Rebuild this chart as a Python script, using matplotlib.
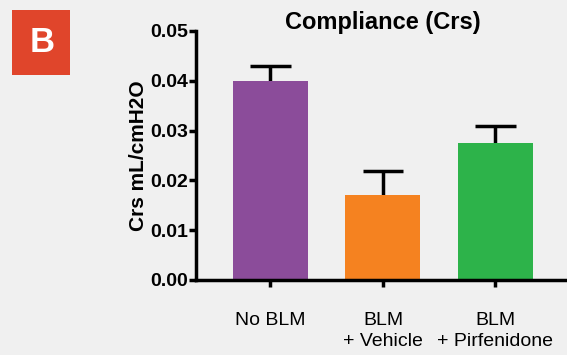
import numpy as np
import matplotlib.pyplot as plt
from matplotlib.patches import Rectangle

groups = ['No BLM', 'BLM\n+ Vehicle', 'BLM\n+ Pirfenidone']
means = [0.0400, 0.0171, 0.0276]
errs = [0.0030, 0.0047, 0.0034]
colors = ['#8b4c9a', '#f58220', '#2db34a']
yticks = [0.00, 0.01, 0.02, 0.03, 0.04, 0.05]

plt.rcParams['font.family'] = ['Liberation Sans', 'DejaVu Sans']

bg = '#f0f0f0'
fig = plt.figure(figsize=(5.67, 3.55), dpi=100, facecolor=bg)
ax = fig.add_axes([0.3457, 0.2113, 0.70, 0.7014], facecolor=bg)

x = np.arange(len(groups))
tops = np.array(means) + np.array(errs)
ax.bar(x, means, width=0.667, color=colors, zorder=2)
# upper error bars only
ax.vlines(x, means, tops, color='black', linewidth=2.5, zorder=1)
ax.hlines(tops, x - 0.18, x + 0.18, color='black', linewidth=2.5, zorder=1)

ax.set_xlim(-0.662, 2.636 + (0.70 - (1 - 0.3457)) * 567 / 112.5)
ax.set_ylim(0, 0.05)
ax.set_yticks(yticks)
ax.set_yticklabels(['%.2f' % v for v in yticks], fontweight='bold', fontsize=14)
ax.set_xticks(x)
ax.set_xticklabels(groups, fontsize=14, linespacing=1.35)

for s in ['top', 'right']:
    ax.spines[s].set_visible(False)
for s in ['left', 'bottom']:
    ax.spines[s].set_linewidth(2.5)
ax.tick_params(axis='both', width=2.5, length=5, direction='out')
ax.tick_params(axis='x', pad=18)
ax.tick_params(axis='y', pad=1)

ax.set_ylabel('Crs mL/cmH2O', fontweight='bold', fontsize=15, labelpad=1)
fig.text(383 / 567, 1 - 22 / 355, 'Compliance (Crs)', fontweight='bold',
         fontsize=17, ha='center', va='center')

# panel label
fig.patches.append(Rectangle((12 / 567, 1 - 75 / 355), 58 / 567, 65 / 355,
                             transform=fig.transFigure, facecolor='#e0452b',
                             edgecolor='none'))
fig.text(42 / 567, 1 - 42 / 355, 'B', color='white', fontweight='bold',
         fontsize=25, ha='center', va='center')

fig.savefig('out.png', dpi=100, facecolor=bg)
